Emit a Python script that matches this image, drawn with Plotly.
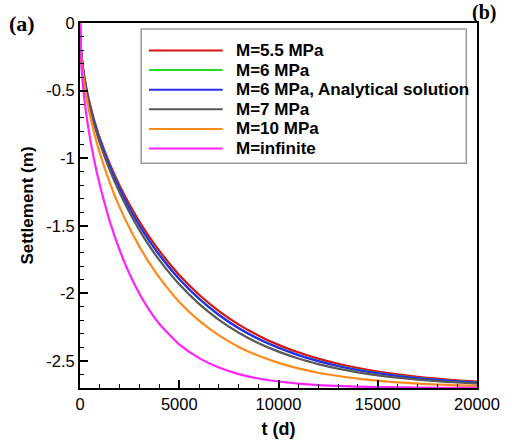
import plotly.graph_objects as go

# Time axis (days)
t_days = [0, 50, 150, 300, 500, 750, 1000, 1500, 2000, 2500, 3000, 3500, 4000,
          5000, 6000, 7000, 8000, 9000, 10000, 11000, 12000, 13000, 14000,
          15000, 16000, 17000, 18000, 19000, 20000]

# Settlement (m) for each modulus case
s_m55 = [0, -0.190, -0.330, -0.466, -0.602, -0.737, -0.851, -1.042, -1.203, -1.345,
         -1.471, -1.584, -1.686, -1.864, -2.010, -2.131, -2.231, -2.313, -2.381,
         -2.436, -2.483, -2.521, -2.552, -2.578, -2.599, -2.617, -2.631, -2.644, -2.653]
s_m6 = [0, -0.193, -0.335, -0.474, -0.612, -0.750, -0.866, -1.061, -1.225, -1.371,
        -1.498, -1.612, -1.715, -1.893, -2.039, -2.159, -2.257, -2.337, -2.402,
        -2.456, -2.500, -2.536, -2.566, -2.590, -2.610, -2.626, -2.639, -2.650, -2.659]
s_m6_analytical = [0, -0.194, -0.336, -0.475, -0.613, -0.751, -0.867, -1.062, -1.226, -1.372,
                   -1.499, -1.613, -1.716, -1.894, -2.040, -2.160, -2.258, -2.338, -2.403,
                   -2.457, -2.501, -2.537, -2.567, -2.591, -2.611, -2.627, -2.640, -2.651, -2.660]
s_m7 = [0, -0.199, -0.344, -0.487, -0.628, -0.769, -0.888, -1.088, -1.256, -1.404,
        -1.534, -1.650, -1.754, -1.933, -2.078, -2.196, -2.291, -2.369, -2.431,
        -2.482, -2.523, -2.557, -2.584, -2.606, -2.624, -2.638, -2.650, -2.659, -2.667]
s_m10 = [0, -0.215, -0.373, -0.528, -0.681, -0.834, -0.963, -1.180, -1.364, -1.519,
         -1.656, -1.777, -1.884, -2.063, -2.202, -2.311, -2.396, -2.462, -2.514,
         -2.555, -2.587, -2.611, -2.631, -2.646, -2.658, -2.667, -2.674, -2.680, -2.684]
s_inf = [0, -0.268, -0.465, -0.657, -0.848, -1.039, -1.199, -1.467, -1.681, -1.859,
         -2.005, -2.126, -2.226, -2.377, -2.479, -2.549, -2.597, -2.630, -2.652,
         -2.667, -2.678, -2.685, -2.690, -2.693, -2.695, -2.697, -2.698, -2.699, -2.699]

series_names = ["M=5.5 MPa", "M=6 MPa", "M=6 MPa, Analytical solution",
                "M=7 MPa", "M=10 MPa", "M=infinite"]
series_values = [s_m55, s_m6, s_m6_analytical, s_m7, s_m10, s_inf]
series_colors = ["#d81010", "#22dd22", "#2b2bf0", "#585858", "#ff8a1c", "#ff22ff"]

x_tick_vals = [0, 5000, 10000, 15000, 20000]
x_tick_text = ["0", "5000", "10000", "15000", "20000"]
y_tick_vals = [0, -0.5, -1, -1.5, -2, -2.5]
y_tick_text = ["0", "-0.5", "-1", "-1.5", "-2", "-2.5"]

W, H = 512, 448
ML, MR, MT, MB = 80, 23, 23, 53
PW, PH = W - ML - MR, H - MT - MB


def px_x(px):
    return (px - ML) / PW


def px_y(py):
    return (H - MB - py) / PH


fig = go.Figure()
for name, vals, col in zip(series_names, series_values, series_colors):
    fig.add_trace(go.Scatter(x=t_days, y=vals, mode="lines", name=name,
                             line=dict(color=col, width=2.2, shape="spline", smoothing=0.6)))

# Legend box with long line samples
shapes = [dict(type="rect", xref="paper", yref="paper",
               x0=px_x(143), x1=px_x(478), y0=px_y(166), y1=px_y(29),
               line=dict(color="#9a9a9a", width=1.5), fillcolor="white", layer="above")]
annotations = []
for i, (name, col) in enumerate(zip(series_names, series_colors)):
    yy = 51 + 20 * i
    shapes.append(dict(type="line", xref="paper", yref="paper",
                       x0=px_x(151), x1=px_x(227), y0=px_y(yy), y1=px_y(yy),
                       line=dict(color=col, width=2), layer="above"))
    annotations.append(dict(xref="paper", yref="paper", x=px_x(239), y=px_y(yy),
                            text="<b>%s</b>" % name, showarrow=False,
                            xanchor="left", yanchor="middle",
                            font=dict(family="Liberation Sans", size=17, color="black")))

annotations.append(dict(xref="paper", yref="paper", x=px_x(5), y=px_y(23),
                        text="<b>(a)</b>", showarrow=False, xanchor="left", yanchor="middle",
                        font=dict(family="Liberation Serif", size=22, color="black")))
annotations.append(dict(xref="paper", yref="paper", x=px_x(511), y=px_y(12),
                        text="<b>(b)</b>", showarrow=False, xanchor="right", yanchor="middle",
                        font=dict(family="Liberation Serif", size=20, color="black")))

axis_font = dict(family="Liberation Sans", size=16.5, color="black")
title_font = dict(family="Liberation Sans", size=17, color="black")

fig.update_layout(
    width=W, height=H,
    margin=dict(l=ML, r=MR, t=MT, b=MB),
    paper_bgcolor="white", plot_bgcolor="white",
    showlegend=False,
    shapes=shapes, annotations=annotations,
    xaxis=dict(range=[0, 20000], tickvals=x_tick_vals, ticktext=x_tick_text,
               ticks="inside", ticklen=8, tickwidth=2, tickcolor="black",
               minor=dict(dtick=1000, tick0=0, ticks="inside", ticklen=4, tickwidth=1, tickcolor="black"),
               showline=True, linecolor="black", linewidth=2, mirror=True,
               showgrid=False, zeroline=False, tickfont=axis_font,
               ticklabeloverflow="allow",
               title=dict(text="<b>t (d)</b>", font=dict(family="Liberation Sans", size=18, color="black"),
                          standoff=11)),
    yaxis=dict(range=[-2.7, 0], tickvals=y_tick_vals, ticktext=y_tick_text,
               ticks="inside", ticklen=8, tickwidth=2, tickcolor="black",
               minor=dict(dtick=0.1, tick0=0, ticks="inside", ticklen=4, tickwidth=1, tickcolor="black"),
               showline=True, linecolor="black", linewidth=2, mirror=True,
               showgrid=False, zeroline=False, tickfont=axis_font,
               title=dict(text="<b>Settlement (m)</b>", font=title_font, standoff=8)),
)

fig.write_html("out.html")
